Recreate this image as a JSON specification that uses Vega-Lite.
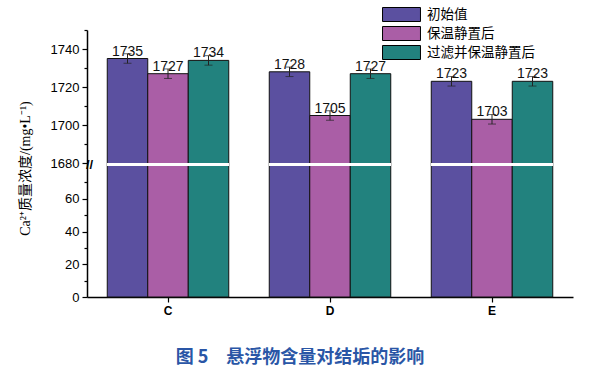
{
  "$schema": "https://vega.github.io/schema/vega-lite/v6.json",
  "width": 486,
  "height": 267,
  "autosize": {"type": "none"},
  "padding": {"left": 87, "top": 30, "right": 23, "bottom": 79},
  "background": "white",
  "config": {"view": {"stroke": null}, "font": "Liberation Sans"},
  "title": {
    "text": "图 5　悬浮物含量对结垢的影响",
    "orient": "bottom",
    "anchor": "middle",
    "offset": 33,
    "dx": -30,
    "color": "#2A56A6",
    "font": "Noto Sans CJK SC",
    "fontSize": 18,
    "fontWeight": "bold"
  },
  "data": {
    "values": [
      {"group": "C", "series": "初始值", "value": 1735, "lo": 1732.5, "hi": 1737.5},
      {"group": "C", "series": "保温静置后", "value": 1727, "lo": 1724.5, "hi": 1729.5},
      {"group": "C", "series": "过滤并保温静置后", "value": 1734, "lo": 1731.5, "hi": 1736.5},
      {"group": "D", "series": "初始值", "value": 1728, "lo": 1725.5, "hi": 1730.5},
      {"group": "D", "series": "保温静置后", "value": 1705, "lo": 1702.5, "hi": 1707.5},
      {"group": "D", "series": "过滤并保温静置后", "value": 1727, "lo": 1724.5, "hi": 1729.5},
      {"group": "E", "series": "初始值", "value": 1723, "lo": 1720.5, "hi": 1725.5},
      {"group": "E", "series": "保温静置后", "value": 1703, "lo": 1700.5, "hi": 1705.5},
      {"group": "E", "series": "过滤并保温静置后", "value": 1723, "lo": 1720.5, "hi": 1725.5}
    ]
  },
  "encoding": {
    "x": {
      "field": "group",
      "type": "nominal",
      "scale": {"paddingInner": 0.25, "paddingOuter": 0.125},
      "axis": {
        "title": null,
        "labelAngle": 0,
        "labelFont": "Liberation Sans",
        "labelFontSize": 12,
        "labelFontWeight": "bold",
        "labelColor": "black",
        "labelPadding": 3,
        "tickSize": 5,
        "tickColor": "black",
        "tickWidth": 1.2,
        "domainColor": "black",
        "domainWidth": 1.5
      }
    }
  },
  "layer": [
    {
      "mark": {"type": "bar", "stroke": "#111", "strokeWidth": 1},
      "encoding": {
        "xOffset": {"field": "series", "type": "nominal", "sort": ["初始值", "保温静置后", "过滤并保温静置后"], "scale": {"paddingInner": 0, "paddingOuter": 0}},
        "y": {
          "field": "value",
          "type": "quantitative",
          "stack": null,
          "scale": {"domain": [0, 80, 1680, 1750], "range": [267, 136, 133, 0], "nice": false, "zero": false},
          "axis": {
            "values": [0, 10, 20, 30, 40, 50, 60, 70, 1000, 1680, 1690, 1700, 1710, 1720, 1730, 1740, 1750],
            "tickCount": 100,
            "format": "d",
            "labelExpr": "datum.value == 1000 ? '//' : (indexof([0,20,40,60,1680,1700,1720,1740], datum.value) >= 0 ? datum.label : '')",
            "title": "Ca²⁺质量浓度/(mg•L⁻¹)",
            "titleFont": "Liberation Serif, Noto Sans CJK SC",
            "titleFontSize": 14,
            "titleFontWeight": "normal",
            "titleColor": "black",
            "titleX": -62,
            "titleY": 138,
            "titleAngle": -90,
            "titleAlign": "center",
            "titleBaseline": "middle",
            "labelFont": "Liberation Sans",
            "labelFontSize": 13,
            "labelColor": "black",
            "labelPadding": {"condition": {"test": "datum.value == 1000", "value": -5}, "value": 3},
            "labelAlign": {"condition": {"test": "datum.value == 1000", "value": "center"}, "value": "right"},
            "labelFontWeight": {"condition": {"test": "datum.value == 1000", "value": "bold"}, "value": "normal"},
            "tickSize": {"condition": {"test": "indexof([0,20,40,60,1680,1700,1720,1740], datum.value) >= 0", "value": 5}, "value": 3},
            "tickOpacity": {"condition": {"test": "datum.value == 1000", "value": 0}, "value": 1},
            "tickColor": "black",
            "tickWidth": 1.2,
            "domainColor": "black",
            "domainWidth": 1.5,
            "grid": false,
            "labelOverlap": false,
            "labelFlush": false
          }
        },
        "color": {
          "field": "series",
          "type": "nominal",
          "sort": ["初始值", "保温静置后", "过滤并保温静置后"],
          "scale": {"domain": ["初始值", "保温静置后", "过滤并保温静置后"], "range": ["#5B50A0", "#AA5EA6", "#22827E"]},
          "legend": {
            "orient": "none",
            "legendX": 307,
            "legendY": -23,
            "title": null,
            "padding": 0,
            "symbolType": "M-2.71,-1H2.71V1H-2.71Z",
            "symbolSize": 196,
            "symbolStrokeColor": "black",
            "symbolStrokeWidth": 1,
            "symbolOpacity": 1,
            "labelFont": "Noto Sans CJK SC",
            "labelFontSize": 13.5,
            "labelColor": "black",
            "labelOffset": 18,
            "rowPadding": 0
          }
        }
      }
    },
    {
      "mark": {"type": "rect", "fill": "white"},
      "encoding": {
        "y": {"datum": 80},
        "y2": {"datum": 1680}
      }
    },
    {
      "mark": {"type": "rule", "color": "#222", "strokeWidth": 1},
      "encoding": {
        "xOffset": {"field": "series", "type": "nominal", "sort": ["初始值", "保温静置后", "过滤并保温静置后"]},
        "y": {"field": "lo", "type": "quantitative"},
        "y2": {"field": "hi"}
      }
    },
    {
      "mark": {"type": "tick", "color": "#222", "size": 8, "thickness": 1},
      "encoding": {
        "xOffset": {"field": "series", "type": "nominal", "sort": ["初始值", "保温静置后", "过滤并保温静置后"]},
        "y": {"field": "lo", "type": "quantitative"}
      }
    },
    {
      "mark": {"type": "tick", "color": "#222", "size": 8, "thickness": 1},
      "encoding": {
        "xOffset": {"field": "series", "type": "nominal", "sort": ["初始值", "保温静置后", "过滤并保温静置后"]},
        "y": {"field": "hi", "type": "quantitative"}
      }
    },
    {
      "mark": {"type": "text", "font": "Liberation Sans", "fontSize": 14, "color": "#111", "baseline": "alphabetic", "dy": -3},
      "encoding": {
        "xOffset": {"field": "series", "type": "nominal", "sort": ["初始值", "保温静置后", "过滤并保温静置后"]},
        "y": {"field": "value", "type": "quantitative"},
        "text": {"field": "value", "type": "quantitative", "format": "d"}
      }
    }
  ]
}
